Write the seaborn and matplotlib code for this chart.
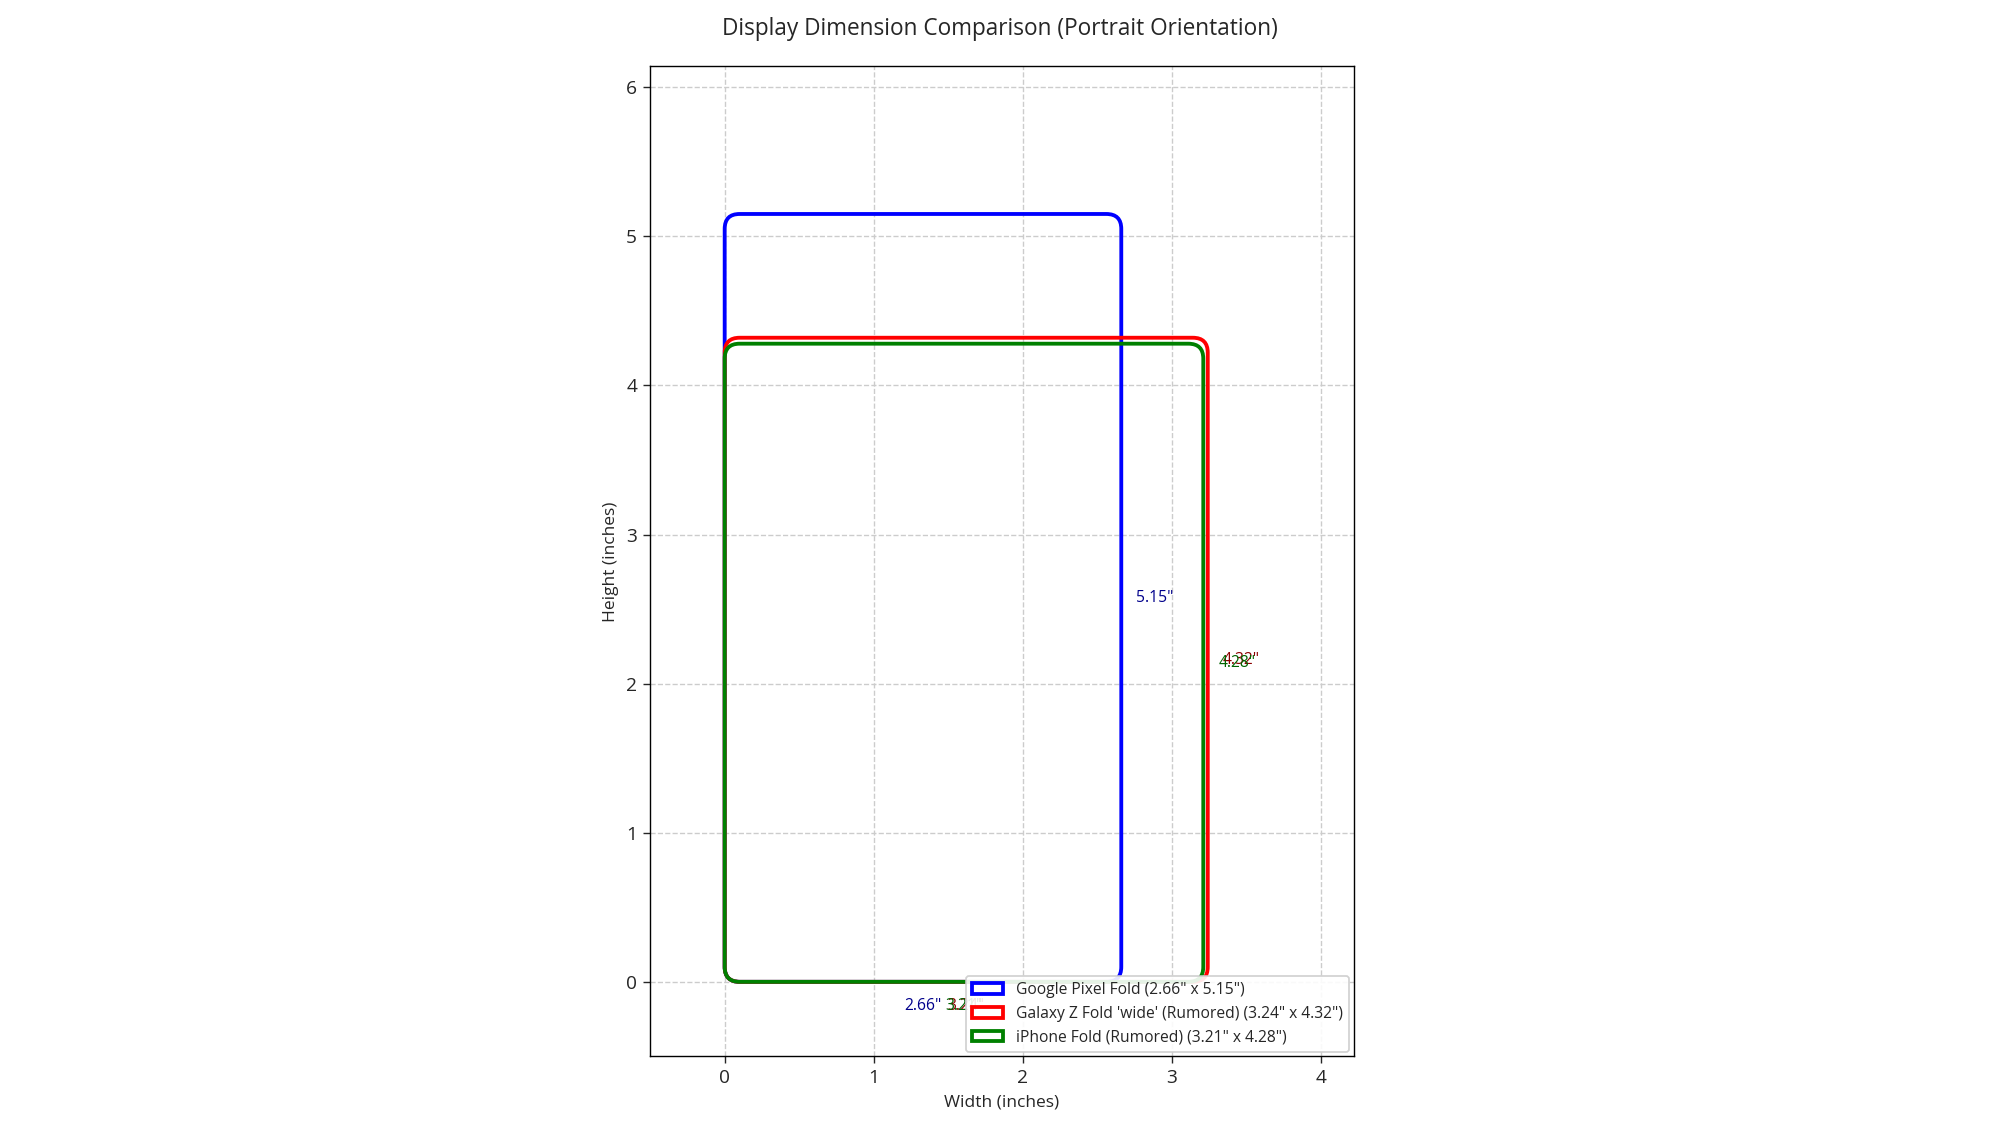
import matplotlib
matplotlib.use("Agg")
import matplotlib.pyplot as plt
import seaborn as sns
from matplotlib.patches import FancyBboxPatch, Patch

names = ["Google Pixel Fold", "Galaxy Z Fold 'wide' (Rumored)", "iPhone Fold (Rumored)"]
widths = [2.66, 3.24, 3.21]
heights = [5.15, 4.32, 4.28]
colors = ["blue", "red", "green"]
text_colors = ["darkblue", "darkred", "darkgreen"]

sns.set_style("white")
plt.rcParams['font.family'] = ['Open Sans', 'DejaVu Sans']
fig = plt.figure(figsize=(16, 9), dpi=125)
ax = fig.add_axes([0.325, 0.061, 0.352, 0.88])

handles = []
for n, w, h, c, tc in zip(names, widths, heights, colors, text_colors):
    p = FancyBboxPatch((0, 0), w, h, boxstyle="round,pad=0,rounding_size=0.1",
                       fill=False, edgecolor=c, linewidth=2.2)
    ax.add_patch(p)
    ax.text(w / 2, -0.16, f'{w}"', color=tc, ha='center', va='center', fontsize=9)
    ax.text(w + 0.1, h / 2, f'{h}"', color=tc, ha='left', va='center', fontsize=9)
    handles.append(Patch(facecolor='none', edgecolor=c, linewidth=2.2,
                         label=f'{n} ({w}" x {h}")'))

ax.set_xlim(-0.5, 4.22)
ax.set_ylim(-0.5, 6.14)
ax.set_aspect('equal')
ax.set_xticks([0, 1, 2, 3, 4])
ax.set_yticks([0, 1, 2, 3, 4, 5, 6])
ax.grid(True, linestyle='--', color='#cccccc', linewidth=0.8)
for s in ax.spines.values():
    s.set_color('black'); s.set_linewidth(0.8)
ax.tick_params(axis='both', labelsize=11, length=4, left=True, bottom=True)
ax.set_xlabel("Width (inches)", fontsize=10)
ax.set_ylabel("Height (inches)", fontsize=10)
fig.suptitle("Display Dimension Comparison (Portrait Orientation)", fontsize=13, y=0.985)
ax.legend(handles=handles, loc='lower right', fontsize=9, framealpha=0.9,
          handlelength=2, borderaxespad=0.3)
fig.savefig("out.png", dpi=125)
